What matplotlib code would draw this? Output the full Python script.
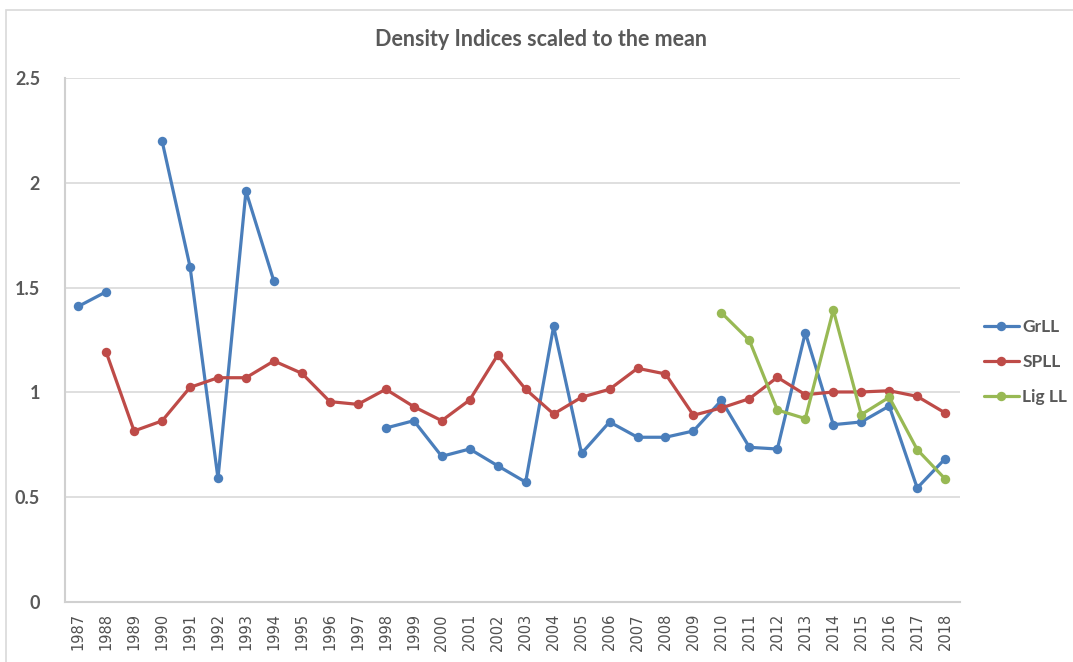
import numpy as np
import matplotlib
matplotlib.use("Agg")
import matplotlib.pyplot as plt
from matplotlib.patches import Rectangle

years = list(range(1987, 2019))
year_labels = [str(y) for y in years]
nan = np.nan

grll = [1.41, 1.48, nan, 2.20, 1.60, 0.59, 1.96, 1.53, nan, nan, nan,
        0.83, 0.865, 0.695, 0.73, 0.65, 0.572, 1.315, 0.709, 0.859, 0.786,
        0.786, 0.816, 0.962, 0.738, 0.730, 1.285, 0.846, 0.859, 0.935,
        0.544, 0.684]
spll = [nan, 1.193, 0.816, 0.864, 1.024, 1.07, 1.07, 1.15, 1.091, 0.956,
        0.943, 1.015, 0.932, 0.865, 0.964, 1.178, 1.015, 0.897, 0.977,
        1.015, 1.115, 1.088, 0.891, 0.926, 0.970, 1.072, 0.989, 1.002,
        1.002, 1.008, 0.981, 0.902]
ligll = [nan] * 23 + [1.380, 1.248, 0.916, 0.875, 1.393, 0.894, 0.977,
                      0.727, 0.587]

series_names = ["GrLL", "SPLL", "Lig LL"]
series_colors = ["#4a7ebb", "#be4b48", "#98b954"]
y_ticks = [0, 0.5, 1, 1.5, 2, 2.5]
y_tick_labels = ["0", "0.5", "1", "1.5", "2", "2.5"]
title = "Density Indices scaled to the mean"

W, H = 1073, 662
fig = plt.figure(figsize=(W / 100, H / 100), dpi=100)
fig.patch.set_facecolor("white")

# chart border
fig.patches.append(Rectangle((6 / W, -0.05), 1.2, 1 - 10 / H + 0.05,
                             transform=fig.transFigure, fill=False,
                             edgecolor="#d9d9d9", linewidth=1.2))

left, right, top, bottom = 65, 960, 78, 602
ax = fig.add_axes([left / W, 1 - bottom / H, (right - left) / W, (bottom - top) / H])

x = np.arange(len(years))
for name, vals, col in zip(series_names, [grll, spll, ligll], series_colors):
    ax.plot(x, vals, color=col, linewidth=2.3, marker="o", markersize=6.8,
            markeredgewidth=0, label=name, solid_capstyle="round")

ax.set_xlim(-0.47, len(years) - 0.47)
ax.set_ylim(0, 2.5)
ax.set_yticks(y_ticks)
ax.set_yticklabels(y_tick_labels, fontfamily="Lato", fontsize=13,
                   fontweight="bold", color="#595959")
ax.set_xticks(x)
ax.set_xticklabels(year_labels, rotation=90, fontfamily="DejaVu Sans",
                   fontsize=10.5, color="#505050")
ax.tick_params(axis="both", length=0)
ax.tick_params(axis="y", pad=18)
ax.tick_params(axis="x", pad=8)
ax.grid(axis="y", color="#d9d9d9", linewidth=1.2)
ax.set_axisbelow(True)
for s in ["top", "right"]:
    ax.spines[s].set_visible(False)
for s in ["left", "bottom"]:
    ax.spines[s].set_color("#d0d0d0")
    ax.spines[s].set_linewidth(1.5)

fig.text(541 / W, 1 - 40 / H, title, ha="center", va="center",
         fontfamily="Lato", fontweight="bold", fontsize=15.5, color="#595959")

leg = ax.legend(loc="center left", bbox_to_anchor=(984 / W, 1 - 362 / H),
                bbox_transform=fig.transFigure, frameon=False,
                prop={"family": "Lato", "size": 12.5, "weight": "bold"},
                handlelength=2.0, handletextpad=0.2, labelspacing=1.1,
                borderaxespad=0, borderpad=0)
for t in leg.get_texts():
    t.set_color("#595959")

fig.savefig("out.png", dpi=100, facecolor="white")
